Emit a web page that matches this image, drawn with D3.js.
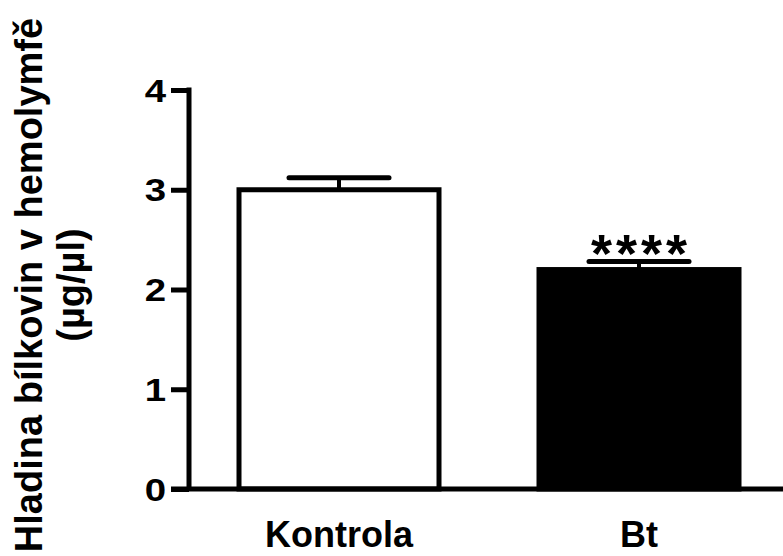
<!DOCTYPE html>
<html>
<head>
<meta charset="utf-8">
<script src="https://cdn.jsdelivr.net/npm/d3@7"></script>
<style>
  html, body { margin: 0; padding: 0; background: #fff; }
  svg { display: block; font-family: "Liberation Sans", Arial, sans-serif; font-weight: bold; }
</style>
</head>
<body>
<svg id="chart" width="783" height="556"></svg>
<script>
// Protein level in hemolymph: control vs. Bt-treated group (mean ± SEM)
const groups = ["Kontrola", "Bt"];
const means = [3.0, 2.2];
const errors = [0.12, 0.08];
const fills = ["#ffffff", "#000000"];
const significance = ["", "****"];
const yTicks = [0, 1, 2, 3, 4];
const yTitleLines = ["Hladina bílkovin v hemolymfě", "(µg/µl)"];

const svg = d3.select("#chart");
const axisX = 189, axisLeft = 171, axisRight = 790;

const y = d3.scaleLinear().domain([0, 4]).range([489, 90]);
const x = d3.scaleBand().domain(groups).range([axisX, 789])
  .paddingInner(1 / 3).paddingOuter(1 / 6);

// Bars
const bars = svg.append("g");
groups.forEach((g, i) => {
  bars.append("rect")
    .attr("x", x(g))
    .attr("y", y(means[i]))
    .attr("width", x.bandwidth())
    .attr("height", y(0) - y(means[i]))
    .attr("fill", fills[i])
    .attr("stroke", "#000")
    .attr("stroke-width", 5);
});

// Error bars (upper only)
const capHalf = x.bandwidth() / 4;
groups.forEach((g, i) => {
  const cx = x(g) + x.bandwidth() / 2;
  bars.append("line")
    .attr("x1", cx).attr("x2", cx)
    .attr("y1", y(means[i])).attr("y2", y(means[i] + errors[i]))
    .attr("stroke", "#000").attr("stroke-width", 4);
  bars.append("line")
    .attr("x1", cx - capHalf).attr("x2", cx + capHalf)
    .attr("y1", y(means[i] + errors[i])).attr("y2", y(means[i] + errors[i]))
    .attr("stroke", "#000").attr("stroke-width", 5)
    .attr("stroke-linecap", "round");
  if (significance[i]) {
    const ls = 4;
    bars.append("text")
      .attr("x", cx + ls / 2)
      .attr("y", y(means[i] + errors[i]) + 10)
      .attr("text-anchor", "middle")
      .attr("font-size", 54)
      .attr("letter-spacing", ls)
      .text(significance[i]);
  }
});

// Y axis
const yAxis = d3.axisLeft(y).tickValues(yTicks).tickSize(axisX - axisLeft).tickFormat("");
const gy = svg.append("g").attr("transform", `translate(${axisX},0)`).call(yAxis);
gy.select(".domain").attr("stroke-width", 5).attr("d", `M0,${y(0)}V${y(4) - 2.5}`);
gy.selectAll(".tick line").attr("stroke-width", 5);
gy.selectAll(".tick").append("text")
  .attr("transform", `translate(${-(axisX - axisLeft) - 5},11) scale(1.2,1)`)
  .attr("text-anchor", "end")
  .attr("fill", "#000")
  .attr("font-size", 32)
  .attr("font-family", "'Liberation Sans', Arial, sans-serif")
  .attr("font-weight", "bold")
  .text(d => d);

// X axis baseline
svg.append("line")
  .attr("x1", axisLeft).attr("x2", axisRight)
  .attr("y1", y(0)).attr("y2", y(0))
  .attr("stroke", "#000").attr("stroke-width", 5);

// Category labels
svg.append("g").selectAll("text").data(groups).join("text")
  .attr("x", d => x(d) + x.bandwidth() / 2)
  .attr("y", 547)
  .attr("text-anchor", "middle")
  .attr("font-size", 36)
  .text(d => d);

// Y axis title
const yTitle = svg.append("text")
  .attr("transform", "translate(0,285) rotate(-90)")
  .attr("text-anchor", "middle")
  .attr("font-size", 38);
yTitle.selectAll("tspan").data(yTitleLines).join("tspan")
  .attr("x", 0)
  .attr("y", (d, i) => 42 + i * 42)
  .text(d => d);
</script>
</body>
</html>
